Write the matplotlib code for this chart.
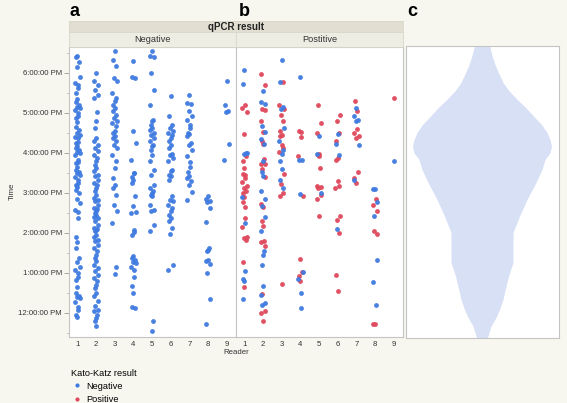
import numpy as np
import matplotlib
matplotlib.use("Agg")
from matplotlib import pyplot as plt
from matplotlib.lines import Line2D

plt.rcParams['font.family'] = ['Liberation Sans', 'DejaVu Sans']

# qPCR negative panel (all Kato-Katz negative), times in hours
qneg_r1 = [18.43, 18.39, 18.28, 18.16, 17.91, 17.74, 17.70, 17.62, 17.49, 17.34, 17.28, 17.20, 17.16, 17.12,
           17.08, 17.01, 16.93, 16.87, 16.78, 16.64, 16.58, 16.51, 16.45, 16.41, 16.37, 16.28, 16.24, 16.18,
           16.12, 16.08, 16.03, 15.99, 15.95, 15.83, 15.78, 15.74, 15.66, 15.58, 15.53, 15.49, 15.45, 15.41,
           15.33, 15.24, 15.20, 15.16, 15.08, 14.99, 14.84, 14.74, 14.58, 14.53, 14.37, 13.91, 13.78, 13.62,
           13.37, 13.28, 13.16, 13.08, 12.99, 12.91, 12.83, 12.66, 12.49, 12.43, 12.41, 12.37, 12.28, 12.16,
           12.08, 11.95, 11.91]
qneg_r2 = [18.00, 17.79, 17.71, 17.58, 17.46, 17.38, 17.03, 16.79, 16.63, 16.38, 16.29, 16.21, 16.13, 16.04,
           15.96, 15.88, 15.79, 15.71, 15.63, 15.54, 15.46, 15.42, 15.33, 15.25, 15.21, 15.13, 15.04, 14.96,
           14.88, 14.83, 14.79, 14.71, 14.63, 14.60, 14.54, 14.50, 14.46, 14.40, 14.38, 14.29, 14.21, 14.13,
           14.10, 14.08, 14.04, 13.96, 13.90, 13.83, 13.79, 13.71, 13.63, 13.54, 13.46, 13.38, 13.29, 13.21,
           13.13, 13.04, 12.96, 12.88, 12.79, 12.71, 12.63, 12.50, 12.42, 12.29, 12.17, 12.08, 12.04, 11.96,
           11.88, 11.79, 11.67]
qneg_r3 = [18.54, 18.33, 18.17, 17.88, 17.79, 17.50, 17.38, 17.29, 17.21, 17.13, 17.04, 16.96, 16.88, 16.79,
           16.75, 16.67, 16.54, 16.50, 16.42, 16.38, 16.29, 16.21, 16.13, 15.96, 15.79, 15.63, 15.38, 15.21,
           15.13, 14.96, 14.71, 14.54, 14.25, 13.15, 12.98]
qneg_r4 = [18.29, 17.90, 17.87, 16.56, 16.26, 15.82, 15.51, 15.49, 15.39, 15.33, 15.24, 14.93, 14.68, 14.52,
           14.49, 14.08, 14.03, 13.95, 13.43, 13.37, 13.33, 13.28, 13.24, 13.16, 13.08, 12.89, 12.68, 12.50,
           12.14, 12.13]
qneg_r5 = [18.54, 18.42, 18.39, 18.00, 17.58, 17.21, 16.83, 16.79, 16.71, 16.63, 16.58, 16.50, 16.44, 16.38,
           16.29, 16.21, 16.17, 16.08, 15.96, 15.79, 15.58, 15.46, 15.21, 15.13, 15.04, 15.00, 14.96, 14.92,
           14.71, 14.58, 14.54, 14.21, 14.04, 11.79, 11.54]
qneg_r6 = [17.43, 16.92, 16.69, 16.63, 16.56, 16.50, 16.44, 16.38, 16.31, 16.21, 16.13, 15.98, 15.94, 15.88,
           15.79, 15.58, 15.54, 15.46, 15.42, 15.33, 14.92, 14.83, 14.79, 14.71, 14.63, 14.54, 14.46, 14.38,
           14.29, 14.13, 13.98, 13.21, 13.08]
qneg_r7 = [17.46, 17.25, 17.23, 17.04, 16.92, 16.83, 16.69, 16.63, 16.50, 16.48, 16.42, 16.25, 16.21, 16.08,
           15.92, 15.78, 15.64, 15.53, 15.42, 15.38, 15.31, 15.21, 15.03, 14.83]
qneg_r8 = [14.92, 14.86, 14.81, 14.78, 14.63, 14.28, 13.63, 13.58, 13.54, 13.33, 13.29, 13.23, 13.00, 12.36, 11.73]
qneg_r9 = [17.79, 17.21, 17.06, 17.02, 16.23, 15.83]

# qPCR positive panel: Kato-Katz negative (blue) / positive (red)
qpos_kkneg_r1 = [18.08, 17.73, 16.00, 15.98, 15.99, 14.90, 14.26, 13.06, 12.84, 12.79, 12.36]
qpos_kkpos_r1 = [17.19, 17.12, 17.03, 16.48, 15.92, 15.79, 15.63, 15.47, 15.45, 15.37, 15.28, 15.18, 15.12,
                 15.06, 15.00, 14.91, 14.78, 14.66, 14.37, 14.14, 13.91, 13.87, 13.83, 13.27, 12.64]
qpos_kkneg_r2 = [17.54, 17.27, 17.23, 16.67, 16.53, 16.36, 16.23, 15.81, 15.53, 15.42, 15.06, 14.86, 14.67,
                 14.39, 14.04, 13.56, 13.46, 13.21, 12.67, 12.46, 12.24, 12.20]
qpos_kkpos_r2 = [17.98, 17.69, 17.10, 17.08, 16.81, 16.53, 16.31, 16.23, 15.86, 15.73, 15.72, 15.60, 15.39,
                 14.73, 14.64, 14.31, 14.18, 13.79, 13.78, 13.67, 12.47, 12.04, 12.00, 11.79]
qpos_kkneg_r3 = [18.33, 17.78, 17.14, 17.10, 16.63, 16.29, 16.08, 15.98, 15.79, 15.60, 15.33, 15.13]
qpos_kkpos_r3 = [17.78, 17.19, 17.10, 16.96, 16.79, 16.56, 16.46, 16.42, 16.21, 16.13, 16.02, 15.48, 15.23,
                 15.00, 14.92, 12.73]
qpos_kkneg_r4 = [17.89, 15.83, 15.82, 14.98, 13.03, 12.85, 12.50, 12.13]
qpos_kkpos_r4 = [16.54, 16.53, 16.39, 15.92, 14.92, 13.36, 13.03, 12.92, 12.81]
qpos_kkneg_r5 = [16.42, 15.98, 15.00]
qpos_kkpos_r5 = [17.19, 16.75, 16.50, 15.97, 15.94, 15.92, 15.63, 15.17, 15.14, 15.13, 14.94, 14.85, 14.42]
qpos_kkneg_r6 = [16.48, 16.23, 15.96, 14.11]
qpos_kkpos_r6 = [16.94, 16.79, 16.50, 16.31, 15.88, 15.82, 15.29, 15.17, 15.13, 14.42, 14.33, 14.00, 12.96, 12.54]
qpos_kkneg_r7 = [17.13, 16.92, 16.83, 16.81, 16.21, 15.32]
qpos_kkpos_r7 = [17.29, 17.04, 16.60, 16.50, 16.42, 16.38, 15.53, 15.38, 15.25]
qpos_kkneg_r8 = [15.10, 15.09, 14.78, 14.43, 13.32, 12.78, 12.19]
qpos_kkpos_r8 = [14.85, 14.69, 14.54, 14.04, 13.98, 11.73, 11.72]
qpos_kkneg_r9 = [15.81]
qpos_kkpos_r9 = [17.38]

# panel c violin outline: time (h) and relative half-width
violin_t = [18.675, 18.425, 18.16, 17.75, 17.55, 17.33, 17.125, 16.91, 16.7, 16.5, 16.325, 16.16, 15.99,
            15.825, 15.575, 15.25, 14.825, 14.41, 14.0, 13.66, 13.25, 12.91, 12.5, 12.325, 12.075, 11.875,
            11.66, 11.375]
violin_hw = [7.5, 10, 13.5, 21, 26.7, 35, 43.7, 51.5, 59.5, 65, 68, 69.5, 68,
             63, 60, 54, 45, 37.5, 31, 31, 31, 26.5, 22.5, 21, 17.5, 14,
             9, 5.5]

readers = [1, 2, 3, 4, 5, 6, 7, 8, 9]
hour_ticks = [12, 13, 14, 15, 16, 17, 18]

qneg = [qneg_r1, qneg_r2, qneg_r3, qneg_r4, qneg_r5, qneg_r6, qneg_r7, qneg_r8, qneg_r9]
qpos_kkneg = [qpos_kkneg_r1, qpos_kkneg_r2, qpos_kkneg_r3, qpos_kkneg_r4, qpos_kkneg_r5,
              qpos_kkneg_r6, qpos_kkneg_r7, qpos_kkneg_r8, qpos_kkneg_r9]
qpos_kkpos = [qpos_kkpos_r1, qpos_kkpos_r2, qpos_kkpos_r3, qpos_kkpos_r4, qpos_kkpos_r5,
              qpos_kkpos_r6, qpos_kkpos_r7, qpos_kkpos_r8, qpos_kkpos_r9]

BLUE = '#3f7ae0'
RED = '#e0485c'
BG = '#f7f7ef'
EDGE = '#c4c4c4'
jit = np.array([0.0, -0.1, 0.09, -0.04, 0.13, -0.12, 0.05, 0.02, -0.07])


def jitter(r, n):
    return r + np.resize(jit, n)


def time_label(t):
    h = int(round(t))
    h12 = h - 12 if h > 12 else h
    return f"{h12}:00:00 PM"


fig = plt.figure(figsize=(5.67, 4.03), dpi=100, facecolor=BG)
W, H = 567, 403


def box(x0, y0, x1, y1):
    return [x0 / W, 1 - y1 / H, (x1 - x0) / W, (y1 - y0) / H]


ax_a = fig.add_axes(box(69, 46.5, 236, 337))
ax_b = fig.add_axes(box(236, 46.5, 403, 337))
ax_c = fig.add_axes(box(406, 46, 559, 338))

for r, ts in zip(readers, qneg):
    ax_a.scatter(jitter(r, len(ts)), ts, s=12, color=BLUE, linewidths=0, alpha=0.95)
for r, ts in zip(readers, qpos_kkneg):
    ax_b.scatter(jitter(r, len(ts)), ts, s=12, color=BLUE, linewidths=0, alpha=0.95, zorder=3)
for r, ts in zip(readers, qpos_kkpos):
    ax_b.scatter(jitter(r, len(ts))[::-1], ts, s=12, color=RED, linewidths=0, alpha=0.95, zorder=2)

for ax in (ax_a, ax_b):
    ax.set_facecolor('white')
    ax.set_xlim(0.55, 9.5)
    ax.set_ylim(11.4, 18.66)
    ax.set_xticks(readers)
    ax.set_xticklabels([str(r) for r in readers])
    ax.tick_params(axis='x', length=0, pad=3, labelsize=5.6, colors='#333333')
    for s in ax.spines.values():
        s.set_color(EDGE)
        s.set_linewidth(0.8)

ax_a.set_yticks(hour_ticks)
ax_a.set_yticklabels([time_label(t) for t in hour_ticks])
ax_a.set_yticks(np.arange(11.5, 18.6, 0.5), minor=True)
ax_a.tick_params(axis='y', which='major', length=3.5, width=0.6, color='#999999',
                 labelsize=5.6, labelcolor='#333333', pad=1.5)
ax_a.tick_params(axis='y', which='minor', length=2, width=0.5, color='#bbbbbb')
ax_a.set_ylabel('Time', fontsize=5.8, color='#333333', labelpad=2)
ax_b.set_yticks([])

# violin (panel c)
vt = np.array(violin_t)
vw = np.array(violin_hw) / 153.0
ax_c.fill_betweenx(vt, -vw, vw, facecolor='#d7e0f5', edgecolor='none')
ax_c.set_xlim(-0.5, 0.5)
ax_c.set_ylim(11.375, 18.675)
ax_c.set_xticks([])
ax_c.set_yticks([])
ax_c.set_facecolor('white')
for s in ax_c.spines.values():
    s.set_color(EDGE)
    s.set_linewidth(0.8)

# strips
s_top = fig.add_axes(box(69, 21, 403, 32))
s_top.set_facecolor('#e2dfd2')
s_top.text(0.5, 0.5, 'qPCR result', ha='center', va='center', fontsize=7, fontweight='bold', color='#222222')
for label, x0, x1 in [('Negative', 69, 236), ('Postitive', 236, 403)]:
    s = fig.add_axes(box(x0, 32, x1, 46.5))
    s.set_facecolor('#eeede3')
    s.text(0.5, 0.5, label, ha='center', va='center', fontsize=6.6, color='#333333')
for s in fig.axes[-3:]:
    s.set_xticks([])
    s.set_yticks([])
    for sp in s.spines.values():
        sp.set_color('#d8d6c8')
        sp.set_linewidth(0.6)

fig.text(236 / W, 1 - 353 / H, 'Reader', ha='center', va='center', fontsize=5.6, color='#333333')

for letter, x in [('a', 70), ('b', 239), ('c', 407)]:
    fig.text(x / W, 1 - 16 / H, letter, fontsize=13, fontweight='bold', ha='left', va='baseline')

handles = [Line2D([], [], marker='o', linestyle='none', markersize=3, color=BLUE, markeredgewidth=0),
           Line2D([], [], marker='o', linestyle='none', markersize=3, color=RED, markeredgewidth=0)]
fig.legend(handles, ['Negative', 'Positive'], title='Kato-Katz result', loc='upper left',
           bbox_to_anchor=(71 / W, 1 - 368.5 / H), frameon=False, fontsize=6.6, title_fontsize=6.6,
           alignment='left', handletextpad=0.5, handlelength=1.2, labelspacing=0.45, borderpad=0,
           borderaxespad=0)

fig.savefig('out.png', dpi=100, facecolor=BG)
